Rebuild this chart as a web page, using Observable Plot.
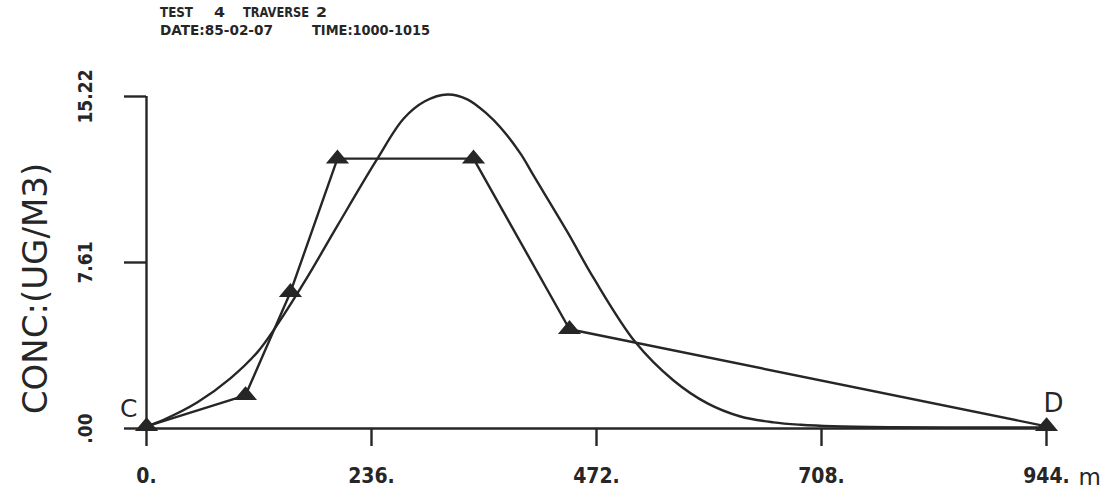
<!DOCTYPE html>
<html><head><meta charset="utf-8">
<script src="https://cdn.jsdelivr.net/npm/d3@7"></script>
<script src="https://cdn.jsdelivr.net/npm/@observablehq/plot@0.6"></script>
<style>
html,body{margin:0;padding:0;background:#fff;}
#wrap{position:relative;width:1102px;height:494px;overflow:hidden;}
#title{position:absolute;left:0;top:0;}
</style></head><body><div id="wrap"><svg id="title" width="700" height="60"></svg></div>
<script>
// ---- data ----
const titleLine1 = ["TEST", "4", "TRAVERSE", "2"];
const titleLine2 = ["DATE:85-02-07", "TIME:1000-1015"];
const yLabel = "CONC:(UG/M3)";
const xUnit = "m";
const endLabels = ["C", "D"];
const xTicks = [0, 236, 472, 708, 944];
const xTickLabels = ["0.", "236.", "472.", "708.", "944."];
const yTicks = [0, 7.61, 15.22];
const yTickLabels = [".00", "7.61", "15.22"];
// measured concentrations (triangles)
const measX = [0, 103.8, 151, 200.3, 343, 443.7, 944];
const measY = [0.1, 1.52, 6.25, 12.37, 12.37, 4.55, 0.1];
// fitted curve
const fitX = [0, 18, 53.5, 88, 116.4, 133.2, 166.8, 200.3, 241.2, 269.6, 292, 315.7, 337, 357.7, 371.3, 392.3, 405.9, 441.6, 468.9, 512.9, 552.8, 588.4, 623, 657.7, 686, 720, 780, 860, 944];
const fitY = [0.1, 0.4, 1.2, 2.3, 3.5, 4.5, 6.8, 9.3, 12.3, 14.2, 15.0, 15.31, 15.08, 14.4, 13.8, 12.6, 11.6, 9.0, 6.9, 3.95, 2.2, 1.15, 0.55, 0.28, 0.17, 0.1, 0.06, 0.05, 0.05];

// ---- layout (not data) ----
const ink = "#262626";
const titleLayout1 = [[160, 33], [214, 11], [243, 66], [316, 11]];
const titleLayout2 = [[160, 113], [312, 118]];

const tsvg = d3.select("#title");
function titleRow(words, layout, baseline) {
  words.forEach((w, i) => {
    tsvg.append("text").attr("x", layout[i][0]).attr("y", baseline)
      .attr("textLength", layout[i][1]).attr("lengthAdjust", "spacingAndGlyphs")
      .attr("font-family", "DejaVu Sans Condensed").attr("font-weight", "bold")
      .attr("font-size", 14).attr("fill", ink).text(w);
  });
}
titleRow(titleLine1, titleLayout1, 17);
titleRow(titleLine2, titleLayout2, 35);

const measured = measX.map((x, i) => ({x, y: measY[i]}));
const fitted = fitX.map((x, i) => ({x, y: fitY[i]}));
const flatTriangle = {draw(ctx) { ctx.moveTo(0, -8); ctx.lineTo(10, 4); ctx.lineTo(-10, 4); ctx.closePath(); }};

const chart = Plot.plot({
  width: 1102, height: 494,
  marginLeft: 146, marginRight: 56, marginTop: 96, marginBottom: 66,
  x: {domain: [xTicks[0], xTicks[xTicks.length - 1]]},
  y: {domain: [yTicks[0], yTicks[yTicks.length - 1]]},
  style: {background: "transparent", color: ink, fontFamily: "DejaVu Sans Condensed"},
  marks: [
    Plot.axisX({ticks: xTicks, tickFormat: d => xTickLabels[xTicks.indexOf(d)], label: null,
      tickSize: 18, tickPadding: 22, fontSize: 21, fontWeight: "bold", strokeWidth: 2.4, stroke: ink}),
    Plot.axisY({ticks: yTicks, tickFormat: d => yTickLabels[yTicks.indexOf(d)], label: null,
      tickSize: 22, tickPadding: 33, tickRotate: -90, fontSize: 19, fontWeight: "bold", strokeWidth: 2.4, stroke: ink}),
    Plot.ruleY([yTicks[0]], {x1: xTicks[0], x2: xTicks[xTicks.length - 1], stroke: ink, strokeWidth: 2.4}),
    Plot.ruleX([xTicks[0]], {y1: yTicks[0], y2: yTicks[yTicks.length - 1], stroke: ink, strokeWidth: 2.4}),
    Plot.text([yLabel], {frameAnchor: "left", rotate: -90, textAnchor: "middle", dx: -110, dy: 26, fontSize: 34,
      fontFamily: "DejaVu Sans", letterSpacing: 3, fill: ink}),
    Plot.text([xTicks[xTicks.length - 1]], {x: d => d, y: () => yTicks[0], text: () => xUnit, dx: 32, dy: 56,
      textAnchor: "start", lineAnchor: "bottom", fontSize: 23, fontFamily: "DejaVu Sans", fill: ink}),
    Plot.line(fitted, {x: "x", y: "y", curve: "catmull-rom", stroke: ink, strokeWidth: 2.4}),
    Plot.line(measured, {x: "x", y: "y", stroke: ink, strokeWidth: 2.4}),
    Plot.dot(measured, {x: "x", y: "y", symbol: flatTriangle, fill: ink, stroke: ink, strokeWidth: 1.5}),
    Plot.text([measured[0]], {x: "x", y: "y", text: () => endLabels[0], textAnchor: "end", dx: -9, dy: -17,
      fontSize: 25, fontFamily: "DejaVu Sans", fill: ink}),
    Plot.text([measured[measured.length - 1]], {x: "x", y: "y", text: () => endLabels[1], textAnchor: "start", dx: -3, dy: -23,
      fontSize: 26, fontFamily: "DejaVu Sans", fill: ink})
  ]
});
chart.style.position = "absolute";
chart.style.left = "0";
chart.style.top = "0";
document.getElementById("wrap").prepend(chart);
</script></body></html>
